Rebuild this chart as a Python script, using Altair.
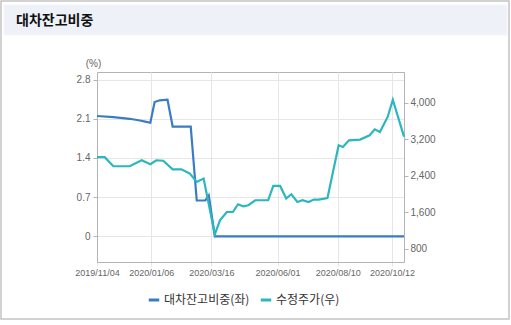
import altair as alt
import pandas as pd

# ---- data ----
blue_name = "대차잔고비중(좌)"
teal_name = "수정주가(우)"

blue_dates = ["2019-11-04", "2019-11-23", "2019-12-12", "2019-12-24", "2019-12-30",
              "2020-01-05", "2020-01-10", "2020-01-16", "2020-01-25", "2020-01-31",
              "2020-02-21", "2020-02-28", "2020-03-09", "2020-03-13", "2020-03-20",
              "2020-10-26"]
blue_vals = [2.15, 2.13, 2.10, 2.07, 2.05,
             2.03, 2.40, 2.43, 2.44, 1.96,
             1.96, 0.64, 0.64, 0.73, 0.0,
             0.0]

teal_dates = ["2019-11-04", "2019-11-13", "2019-11-23", "2019-12-12", "2019-12-26",
              "2020-01-05", "2020-01-12", "2020-01-20", "2020-01-31", "2020-02-10",
              "2020-02-20", "2020-02-28", "2020-03-07", "2020-03-20", "2020-03-26",
              "2020-04-03", "2020-04-10", "2020-04-16", "2020-04-22", "2020-04-28",
              "2020-05-06", "2020-05-21", "2020-05-27", "2020-06-04", "2020-06-11",
              "2020-06-17", "2020-06-24", "2020-06-30", "2020-07-07", "2020-07-13",
              "2020-07-19", "2020-07-29", "2020-08-11", "2020-08-16", "2020-08-23",
              "2020-09-05", "2020-09-16", "2020-09-22", "2020-09-28", "2020-10-07",
              "2020-10-13", "2020-10-26"]
teal_vals = [2810, 2810, 2610, 2610, 2741,
             2653, 2741, 2730, 2543, 2543,
             2449, 2264, 2339, 1110, 1422,
             1604, 1604, 1774, 1730, 1752,
             1862, 1862, 2176, 2176, 1899,
             1994, 1824, 1862, 1824, 1877,
             1877, 1912, 3071, 3033, 3180,
             3196, 3290, 3422, 3363, 3693,
             4070, 3260]

left_ticks = [0, 0.7, 1.4, 2.1, 2.8]
right_ticks = [800, 1600, 2400, 3200, 4000]
x_tick_dates = [(2019, 11, 4), (2020, 1, 6), (2020, 3, 16), (2020, 6, 1), (2020, 8, 10), (2020, 10, 12)]

BLUE = "#3a7cc4"
TEAL = "#2bb6c0"
GRID = "#e6e6e6"
FRAME = "#b4b4b4"
LABEL = "#666666"
FONT = "Liberation Sans"
KFONT = "Noto Sans CJK KR"

blue_df = pd.DataFrame({"date": blue_dates, "value": blue_vals, "series": blue_name})
teal_df = pd.DataFrame({"date": teal_dates, "value": teal_vals, "series": teal_name})
one = pd.DataFrame({"a": [0]})

x_domain = [alt.DateTime(year=2019, month=11, date=4, utc=True),
            alt.DateTime(year=2020, month=10, date=26, utc=True)]
x_values = [alt.DateTime(year=y, month=m, date=d, utc=True) for (y, m, d) in x_tick_dates]

color = alt.Color(
    "series:N",
    scale=alt.Scale(domain=[blue_name, teal_name], range=[BLUE, TEAL]),
    legend=alt.Legend(
        title=None, orient="none", direction="horizontal",
        legendX=50, legendY=221,
        symbolType="stroke", symbolStrokeWidth=3, symbolSize=110,
        labelFont=KFONT, labelFontSize=12, labelColor="#333333",
        labelOffset=3, columnPadding=4,
    ),
)

x_enc = alt.X(
    "date:T",
    scale=alt.Scale(type="utc", domain=x_domain, nice=False),
    axis=alt.Axis(
        title=None, values=x_values,
        labelExpr="utcFormat(datum.value, '%Y/%m/%d')",
        labelFont=FONT, labelFontSize=9, labelColor=LABEL,
        labelFlush=False, labelOverlap=False, labelPadding=2,
        tickSize=4, tickColor=GRID, domainColor=FRAME,
        grid=True, gridColor=GRID,
    ),
)

blue_line = alt.Chart(blue_df).mark_line(strokeWidth=2.2, interpolate="linear").encode(
    x=x_enc,
    y=alt.Y(
        "value:Q",
        scale=alt.Scale(domain=[-0.459, 2.936], nice=False, zero=False),
        axis=alt.Axis(
            orient="left", values=left_ticks, format="~g",
            title="(%)", titleAngle=0, titleX=-4, titleY=-9,
            titleAlign="center", titleBaseline="middle",
            titleFont=FONT, titleFontSize=10, titleFontWeight="normal", titleColor=LABEL,
            labelFont=FONT, labelFontSize=10, labelColor=LABEL, labelPadding=3,
            tickSize=4, tickColor=FRAME, domainColor=FRAME,
            grid=True, gridColor=GRID,
        ),
    ),
    color=color,
)

teal_line = alt.Chart(teal_df).mark_line(strokeWidth=2.2, interpolate="linear").encode(
    x=x_enc,
    y=alt.Y(
        "value:Q",
        scale=alt.Scale(domain=[505, 4681], nice=False, zero=False),
        axis=alt.Axis(
            orient="right", values=right_ticks, format=",d", title=None,
            labelFont=FONT, labelFontSize=10, labelColor=LABEL, labelPadding=2,
            tickSize=4, tickColor=FRAME, domainColor=FRAME, grid=False,
        ),
    ),
    color=color,
)

# ---- panel decoration (frame, header band, title) ----
outer = alt.Chart(one).mark_rect(filled=False, stroke="#c4c4c4", strokeWidth=1.5).encode(
    x=alt.value(-96), x2=alt.value(412), y=alt.value(-71), y2=alt.value(247)
)
header = alt.Chart(one).mark_rect(fill="#eef1f7", stroke="#f4f6fa", strokeWidth=1).encode(
    x=alt.value(-93), x2=alt.value(410), y=alt.value(-67), y2=alt.value(-37)
)
title = alt.Chart(one).mark_text(
    align="left", baseline="middle", font=KFONT, fontSize=14, fontWeight="bold", color="#111111"
).encode(x=alt.value(-81), y=alt.value(-51.5), text=alt.value("대차잔고비중"))

chart = alt.layer(outer, header, title, blue_line, teal_line).resolve_scale(
    y="independent"
).properties(
    width=307, height=190,
    autosize="none",
    padding={"left": 97, "top": 72, "right": 107, "bottom": 63},
    background="white",
).configure_view(stroke=FRAME, strokeWidth=1)

chart.save("out.html", embed_options={"renderer": "svg", "actions": False})
